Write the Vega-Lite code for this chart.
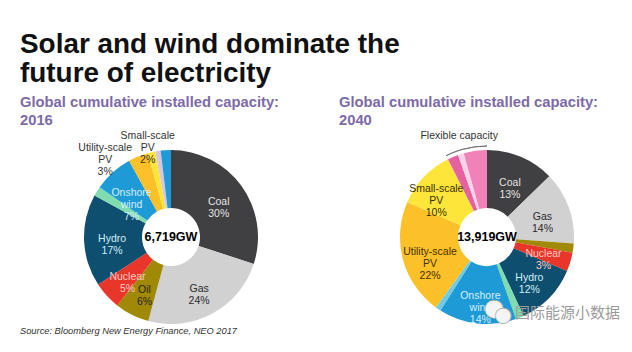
{
"$schema":"https://vega.github.io/schema/vega-lite/v6.json",
"padding":{"top":30,"left":0,"right":0,"bottom":0},
"background":"white",
"spacing":0,
"bounds":"flush",
"resolve":{"scale":{"color":"independent","fill":"independent","stroke":"independent"}},
"title":{"text":["Solar and wind dominate the","future of electricity"],"anchor":"start","frame":"group","dx":20,"font":"Liberation Sans","fontSize":27.9,"fontWeight":"bold","color":"#111111","lineHeight":29.5,"offset":7},
"config":{"view":{"stroke":null},"font":"Liberation Sans"},
"datasets":{
"d2016":[
{"i":1,"seg":"Coal","share":30,"label":"Coal\n30%"},
{"i":2,"seg":"Gas","share":24.2,"label":"Gas\n24%"},
{"i":3,"seg":"Oil","share":6.4,"label":"Oil\n6%"},
{"i":4,"seg":"Nuclear","share":5.2,"label":"Nuclear\n5%"},
{"i":5,"seg":"Hydro","share":17.1,"label":"Hydro\n17%"},
{"i":6,"seg":"Biomass","share":1.8,"label":""},
{"i":7,"seg":"Onshore wind","share":7.3,"label":"Onshore\nwind\n7%"},
{"i":8,"seg":"Utility-scale PV","share":3.7,"label":"Utility-scale\nPV\n3%"},
{"i":9,"seg":"Small-scale PV","share":1.4,"label":"Small-scale\nPV\n2%"},
{"i":10,"seg":"Flexible","share":1,"label":""},
{"i":11,"seg":"Offshore wind","share":1.9,"label":""}
],
"d2040":[
{"i":1,"seg":"Coal","share":12.7,"label":"Coal\n13%"},
{"i":2,"seg":"Gas","share":13.5,"label":"Gas\n14%"},
{"i":3,"seg":"Oil","share":1.7,"label":""},
{"i":4,"seg":"Nuclear","share":3.5,"label":"Nuclear\n3%"},
{"i":5,"seg":"Hydro","share":11.7,"label":"Hydro\n12%"},
{"i":6,"seg":"Biomass","share":1.5,"label":""},
{"i":7,"seg":"Onshore wind","share":14.4,"label":"Onshore\nwind\n14%"},
{"i":8,"seg":"Offshore wind","share":1,"label":""},
{"i":9,"seg":"Utility-scale PV","share":21.6,"label":"Utility-scale\nPV\n22%"},
{"i":10,"seg":"Small-scale PV","share":11,"label":"Small-scale\nPV\n10%"},
{"i":11,"seg":"Flexible A","share":2,"label":""},
{"i":12,"seg":"Flexible B","share":1.1,"label":"Flexible capacity"},
{"i":13,"seg":"Flexible C","share":4.3,"label":""}
]
},
"hconcat":[
{"width":342,"height":230,
"title":{"text":["Global cumulative installed capacity:","2016"],"anchor":"start","frame":"group","dx":20,"font":"Liberation Sans","fontSize":14.75,"fontWeight":"bold","color":"#7d6aa8","lineHeight":18,"offset":-6},
"layer":[
{"data":{"name":"d2016"},"mark":{"type":"arc","innerRadius":29,"outerRadius":87},
"encoding":{"theta":{"field":"share","type":"quantitative","stack":true},"order":{"field":"i"},
"color":{"field":"seg","legend":null,"scale":{"domain":["Coal","Gas","Oil","Nuclear","Hydro","Biomass","Onshore wind","Utility-scale PV","Small-scale PV","Flexible","Offshore wind"],"range":["#403f41","#d2d1d2","#9f8906","#e8362a","#0e4e6e","#7fdcae","#1e9ad6","#fcc028","#fde53a","#d9c8dc","#1e9ad6"]}}}},
{"data":{"name":"d2016"},"mark":{"type":"text","fontSize":10.5,"lineBreak":"\n","lineHeight":12,"baseline":"middle","radius":59},
"encoding":{"theta":{"field":"share","type":"quantitative","stack":true},"order":{"field":"i"},"detail":{"field":"seg"},
"text":{"condition":{"test":"datum.seg!=='Utility-scale PV'&&datum.seg!=='Small-scale PV'","field":"label"},"value":""},
"fill":{"field":"seg","legend":null,"scale":{"domain":["Coal","Gas","Oil","Nuclear","Hydro","Biomass","Onshore wind","Utility-scale PV","Small-scale PV","Flexible","Offshore wind"],"range":["#e4e4e4","#2a2a2a","#2a2410","#ffc9c4","#cfeefc","#333333","#d5effb","#333333","#333333","#333333","#333333"]}}}},
{"data":{"name":"d2016"},"mark":{"type":"text","fontSize":10.5,"lineBreak":"\n","lineHeight":12,"baseline":"middle","radius":111,"dx":-24,"dy":14},
"encoding":{"theta":{"field":"share","type":"quantitative","stack":true},"order":{"field":"i"},"detail":{"field":"seg"},
"text":{"condition":{"test":"datum.seg==='Utility-scale PV'","field":"label"},"value":""},
"fill":{"value":"#333333"}}},
{"data":{"name":"d2016"},"mark":{"type":"text","fontSize":10.5,"lineBreak":"\n","lineHeight":12,"baseline":"middle","radius":104},
"encoding":{"theta":{"field":"share","type":"quantitative","stack":true},"order":{"field":"i"},"detail":{"field":"seg"},
"text":{"condition":{"test":"datum.seg==='Small-scale PV'","field":"label"},"value":""},
"fill":{"value":"#333333"}}},
{"data":{"values":[{"total":"6,719GW"}]},"mark":{"type":"text","fontSize":12.5,"fontWeight":"bold","color":"#000000","baseline":"middle"},"encoding":{"text":{"field":"total"}}},
{"data":{"values":[{"note":"Source: Bloomberg New Energy Finance, NEO 2017"}]},"mark":{"type":"text","fontSize":9.3,"fontStyle":"italic","color":"#333333","align":"left","baseline":"middle","dx":-151,"dy":94},"encoding":{"text":{"field":"note"}}}
]},
{"width":290,"height":230,
"title":{"text":["Global cumulative installed capacity:","2040"],"anchor":"start","frame":"group","dx":-3,"font":"Liberation Sans","fontSize":14.75,"fontWeight":"bold","color":"#7d6aa8","lineHeight":18,"offset":-6},
"layer":[
{"data":{"name":"d2040"},"mark":{"type":"arc","innerRadius":29,"outerRadius":87},
"encoding":{"theta":{"field":"share","type":"quantitative","stack":true},"order":{"field":"i"},
"color":{"field":"seg","legend":null,"scale":{"domain":["Coal","Gas","Oil","Nuclear","Hydro","Biomass","Onshore wind","Offshore wind","Utility-scale PV","Small-scale PV","Flexible A","Flexible B","Flexible C"],"range":["#403f41","#d2d1d2","#9f8906","#e8362a","#0e4e6e","#7fdcae","#1e9ad6","#6dcbe8","#fcc028","#fde53a","#e5619f","#fbd3e7","#f182b9"]}}}},
{"data":{"name":"d2040"},"mark":{"type":"arc","radius":91,"radius2":91,"filled":false,"strokeWidth":0.8},
"encoding":{"theta":{"field":"share","type":"quantitative","stack":true},"order":{"field":"i"},
"stroke":{"field":"seg","legend":null,"scale":{"domain":["Coal","Gas","Oil","Nuclear","Hydro","Biomass","Onshore wind","Offshore wind","Utility-scale PV","Small-scale PV","Flexible A","Flexible B","Flexible C"],"range":["transparent","transparent","transparent","transparent","transparent","transparent","transparent","transparent","transparent","transparent","#666666","#666666","#666666"]}}}},
{"data":{"name":"d2040"},"mark":{"type":"text","fontSize":10.5,"lineBreak":"\n","lineHeight":12,"baseline":"middle","radius":59},
"encoding":{"theta":{"field":"share","type":"quantitative","stack":true},"order":{"field":"i"},"detail":{"field":"seg"},
"text":{"condition":{"test":"datum.seg!=='Flexible B'&&datum.seg!=='Small-scale PV'","field":"label"},"value":""},
"fill":{"field":"seg","legend":null,"scale":{"domain":["Coal","Gas","Oil","Nuclear","Hydro","Biomass","Onshore wind","Offshore wind","Utility-scale PV","Small-scale PV","Flexible A","Flexible B","Flexible C"],"range":["#e4e4e4","#2a2a2a","#333333","#ffc9c4","#cfeefc","#333333","#d5effb","#333333","#4a3000","#3a3000","#333333","#333333","#333333"]}}}},
{"data":{"name":"d2040"},"mark":{"type":"text","fontSize":10.5,"lineBreak":"\n","lineHeight":12,"baseline":"middle","radius":70},
"encoding":{"theta":{"field":"share","type":"quantitative","stack":true},"order":{"field":"i"},"detail":{"field":"seg"},
"text":{"condition":{"test":"datum.seg==='Small-scale PV'","field":"label"},"value":""},
"fill":{"value":"#3a3000"}}},
{"data":{"name":"d2040"},"mark":{"type":"text","fontSize":10.5,"lineBreak":"\n","lineHeight":12,"baseline":"middle","radius":106,"dx":4},
"encoding":{"theta":{"field":"share","type":"quantitative","stack":true},"order":{"field":"i"},"detail":{"field":"seg"},
"text":{"condition":{"test":"datum.seg==='Flexible B'","field":"label"},"value":""},
"fill":{"value":"#333333"}}},
{"data":{"values":[{"total":"13,919GW"}]},"mark":{"type":"text","fontSize":12.5,"fontWeight":"bold","color":"#000000","baseline":"middle"},"encoding":{"text":{"field":"total"}}},
{"data":{"values":[{"icon":"●"}]},"mark":{"type":"text","fontSize":42,"color":"#f4f4f4","stroke":"#9aa59a","strokeWidth":0.6,"baseline":"middle","dx":7,"dy":71},"encoding":{"text":{"field":"icon"}}},
{"data":{"values":[{"icon":"●"}]},"mark":{"type":"text","fontSize":36,"color":"#f4f4f4","stroke":"#9aa59a","strokeWidth":0.6,"baseline":"middle","dx":16,"dy":78},"encoding":{"text":{"field":"icon"}}},
{"data":{"values":[{"mark":"国际能源小数据"}]},"mark":{"type":"text","font":"Noto Sans CJK SC","fontSize":15,"color":"#9b9b9b","align":"left","baseline":"middle","dx":28,"dy":76},"encoding":{"text":{"field":"mark"}}}
]}
]
}
